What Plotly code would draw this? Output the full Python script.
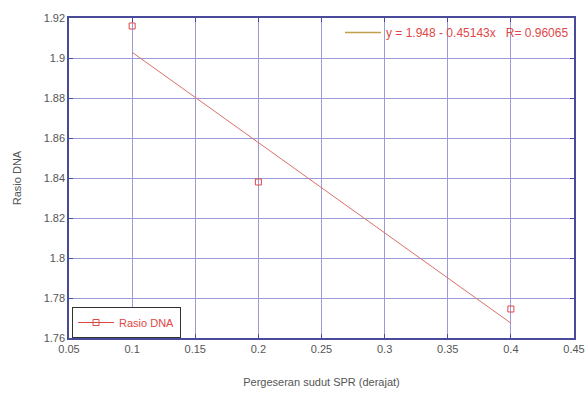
import plotly.graph_objects as go

# Data
x_vals = [0.1, 0.2, 0.4]
rasio_dna = [1.916, 1.838, 1.7745]
fit_intercept = 1.948
fit_slope = -0.45143
fit_r = 0.96065
x_ticks = [0.05, 0.1, 0.15, 0.2, 0.25, 0.3, 0.35, 0.4, 0.45]
y_ticks = [1.76, 1.78, 1.8, 1.82, 1.84, 1.86, 1.88, 1.9, 1.92]

fit_x = [min(x_vals), max(x_vals)]
fit_y = [fit_intercept + fit_slope * v for v in fit_x]

red = "#e04848"
grid = "#9a9ad6"
border = "#4a4a9a"
font = "Liberation Sans, Arial, sans-serif"
fs = 11

fig = go.Figure()
fig.add_trace(go.Scatter(x=fit_x, y=fit_y, mode="lines",
                         line=dict(color="#d8706a", width=1), showlegend=False))
fig.add_trace(go.Scatter(x=x_vals, y=rasio_dna, mode="markers",
                         marker=dict(symbol="square-open", size=6, color=red, line=dict(width=1)),
                         showlegend=False))
# legend entries
fig.add_trace(go.Scatter(x=[None], y=[None], mode="lines+markers", name="Rasio DNA",
                         line=dict(color=red, width=1),
                         marker=dict(symbol="square-open", size=6, color=red),
                         legend="legend"))
fig.add_trace(go.Scatter(x=[None], y=[None], mode="lines",
                         name=f"y = {fit_intercept:g} - {abs(fit_slope):g}x   R= {fit_r:g}",
                         line=dict(color="#c0a048", width=1.5),
                         legend="legend2"))

axis_common = dict(showline=True, linecolor=border, linewidth=1.5, mirror="ticks",
                   showgrid=True, gridcolor=grid, gridwidth=1,
                   ticks="inside", ticklen=4, tickcolor=border,
                   tickfont=dict(family=font, size=fs, color="#555555"),
                   zeroline=False, automargin=False)

fig.update_xaxes(range=[0.05, 0.45], tickvals=x_ticks,
                 ticktext=[f"{t:g}" for t in x_ticks],
                 title=dict(text="Pergeseran sudut SPR (derajat)",
                            font=dict(family=font, size=fs, color="#555555"), standoff=24),
                 **axis_common)
fig.update_yaxes(range=[1.76, 1.92], tickvals=y_ticks,
                 ticktext=[f"{t:g}" for t in y_ticks],
                 title=dict(text="Rasio DNA",
                            font=dict(family=font, size=fs, color="#555555"), standoff=20),
                 **axis_common)

fig.update_layout(
    width=587, height=402,
    margin=dict(l=69, r=13, t=18, b=64),
    plot_bgcolor="white", paper_bgcolor="white",
    legend=dict(x=0.006, y=0.0, xanchor="left", yanchor="bottom",
                bgcolor="white", bordercolor="#333333", borderwidth=1,
                font=dict(family=font, size=fs, color=red),
                itemwidth=36, tracegroupgap=0),
    legend2=dict(x=1.0, y=1.0, xanchor="right", yanchor="top",
                 bgcolor="rgba(255,255,255,0)", borderwidth=0,
                 font=dict(family=font, size=12, color=red),
                 itemwidth=36),
)

fig.write_html("out.html", config={"displayModeBar": False},
               post_script="document.body.style.margin='0';document.body.style.overflow='hidden';")
